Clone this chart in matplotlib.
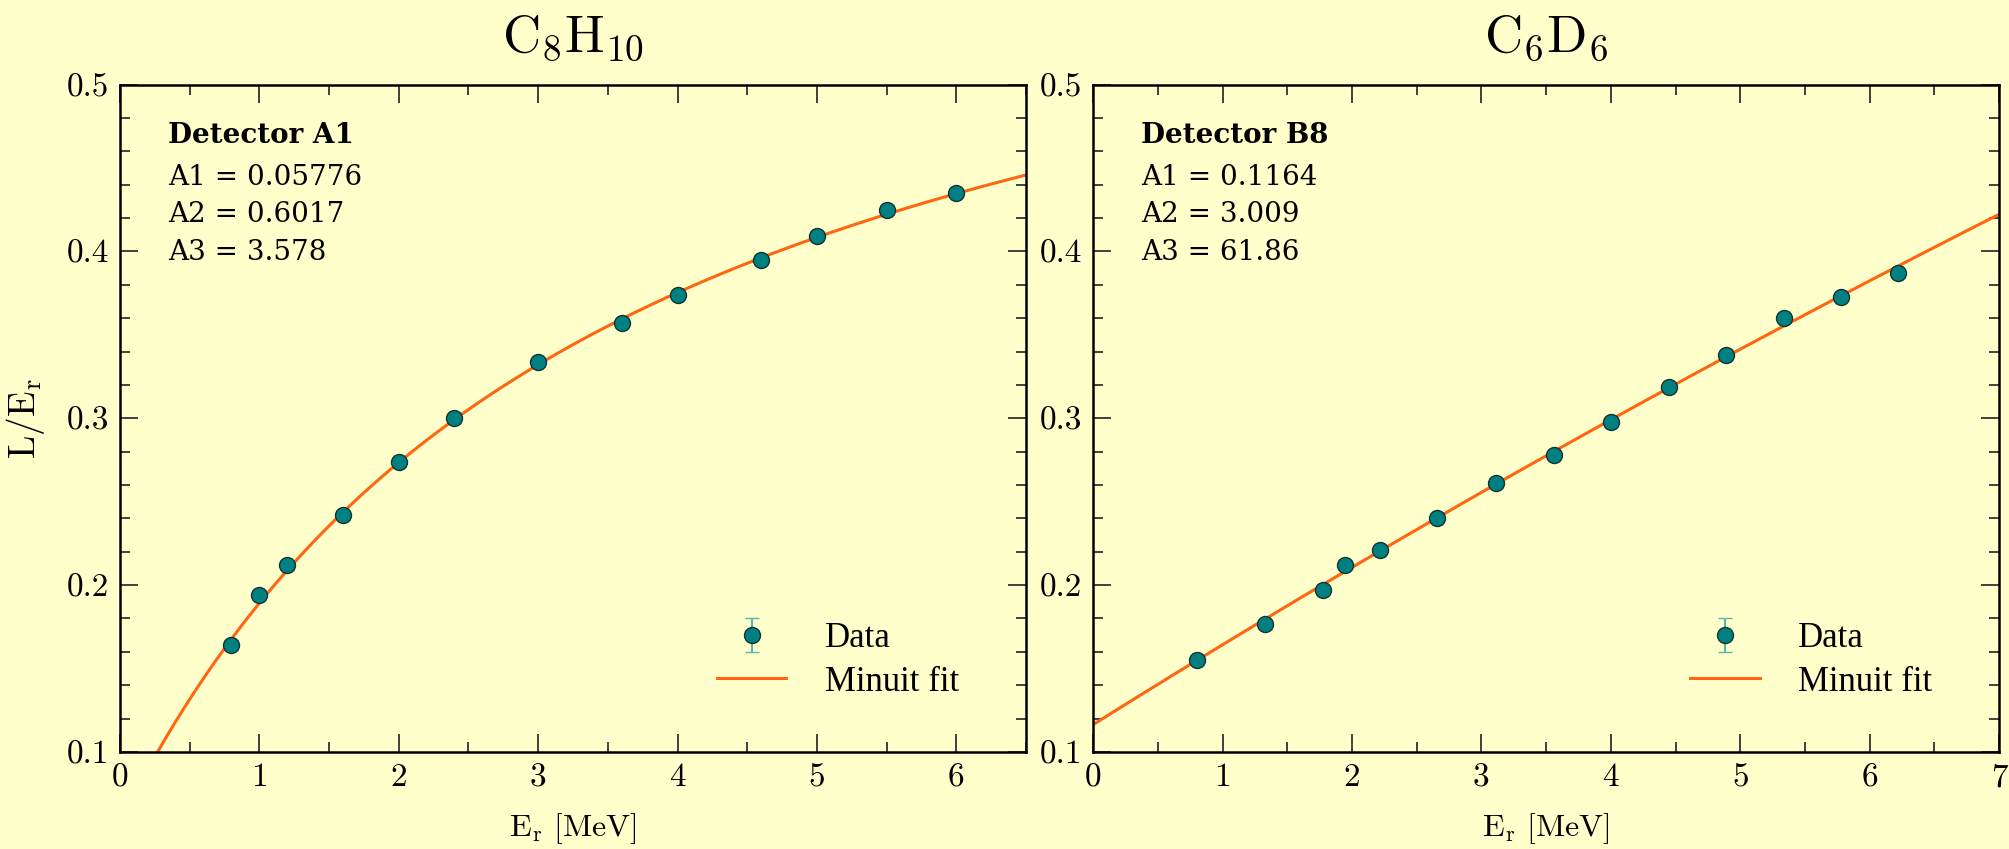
import numpy as np
import matplotlib
matplotlib.use("Agg")
import matplotlib.pyplot as plt
from matplotlib.ticker import MultipleLocator

plt.rcParams['mathtext.fontset'] = 'cm'
plt.rcParams['axes.unicode_minus'] = False

# C8H10, detector A1
e_c8 = [0.8, 1.0, 1.2, 1.6, 2.0, 2.4, 3.0, 3.6, 4.0, 4.6, 5.0, 5.5, 6.0]
ly_c8 = [0.164, 0.194, 0.212, 0.242, 0.274, 0.300, 0.334, 0.357, 0.374, 0.395, 0.409, 0.425, 0.435]
par_c8 = [0.05776, 0.6017, 3.578]

# C6D6, detector B8
e_c6 = [0.8, 1.33, 1.78, 1.95, 2.22, 2.66, 3.11, 3.56, 4.0, 4.45, 4.89, 5.34, 5.78, 6.22]
ly_c6 = [0.155, 0.177, 0.197, 0.212, 0.221, 0.240, 0.261, 0.278, 0.298, 0.319, 0.338, 0.360, 0.373, 0.387]
par_c6 = [0.1164, 3.009, 61.86]

titles = [r'$\mathrm{C_8H_{10}}$', r'$\mathrm{C_6D_6}$']
detectors = ['Detector A1', 'Detector B8']
xmax = [6.5, 7.0]

bg = '#ffffcc'
teal = '#008080'
orange = '#ff6611'
tickfont = 'cmr10'


def fit(e, p):
    # Minuit fit model: L/E = A1 + A2*E/(E+A3)
    return p[0] + p[1] * e / (e + p[2])


fig = plt.figure(figsize=(20.09, 8.49), dpi=100, facecolor=bg)
ax1 = fig.add_axes([0.0597, 0.1143, 0.451, 0.786])
ax2 = fig.add_axes([0.5441, 0.1143, 0.451, 0.786])

data = [(e_c8, ly_c8, par_c8), (e_c6, ly_c6, par_c6)]
for i, ax in enumerate([ax1, ax2]):
    e, ly, par = data[i]
    ax.set_facecolor(bg)
    ee = np.linspace(0.001, xmax[i], 400)
    h_data = ax.errorbar(e, ly, yerr=0.0015, fmt='o', color=teal, ms=11.5, mfc=teal,
                         mec='#113333', mew=1.0, ecolor='#5ab5ae', elinewidth=1.5,
                         capsize=5, capthick=1.5, label='Data', zorder=3)
    h_fit, = ax.plot(ee, fit(ee, par), color=orange, lw=2.2, label='Minuit fit', zorder=2)

    ax.set_xlim(0, xmax[i])
    ax.set_ylim(0.1, 0.5)
    ax.xaxis.set_major_locator(MultipleLocator(1))
    ax.xaxis.set_minor_locator(MultipleLocator(0.5))
    ax.yaxis.set_major_locator(MultipleLocator(0.1))
    ax.yaxis.set_minor_locator(MultipleLocator(0.02))
    ax.tick_params(which='both', direction='in', top=True, right=True,
                   color='#333333', width=1.3)
    ax.tick_params(which='major', length=13, labelsize=24, pad=8)
    ax.tick_params(which='minor', length=7)
    for lab in ax.get_xticklabels() + ax.get_yticklabels():
        lab.set_fontfamily(tickfont)
    for sp in ax.spines.values():
        sp.set_linewidth(1.8)

    ax.set_title(titles[i], fontsize=38, pad=24)
    ax.set_xlabel(r'$\mathrm{E_r}$ [MeV]', fontsize=23, fontfamily=tickfont, labelpad=14)

    ax.text(0.053, 0.912, detectors[i], transform=ax.transAxes, fontsize=20,
            fontfamily='DejaVu Serif', fontweight='bold', va='baseline')
    for k in range(3):
        ax.text(0.053, 0.850 - 0.0564 * k, 'A%d = %s' % (k + 1, ('%.4g' % par[k])),
                transform=ax.transAxes, fontsize=20, fontfamily='DejaVu Serif',
                va='baseline')

    ax.legend([h_data, h_fit], ['Data', 'Minuit fit'], loc='lower left',
              bbox_to_anchor=(0.659, 0.08), frameon=False,
              prop={'family': 'Liberation Serif', 'size': 25}, handlelength=2.0,
              handletextpad=1.1, labelspacing=0.3, borderpad=0, borderaxespad=0)

ax1.set_ylabel(r'$\mathrm{L/E_r}$', fontsize=27, labelpad=14)

fig.savefig('out.png', dpi=100, facecolor=bg)
